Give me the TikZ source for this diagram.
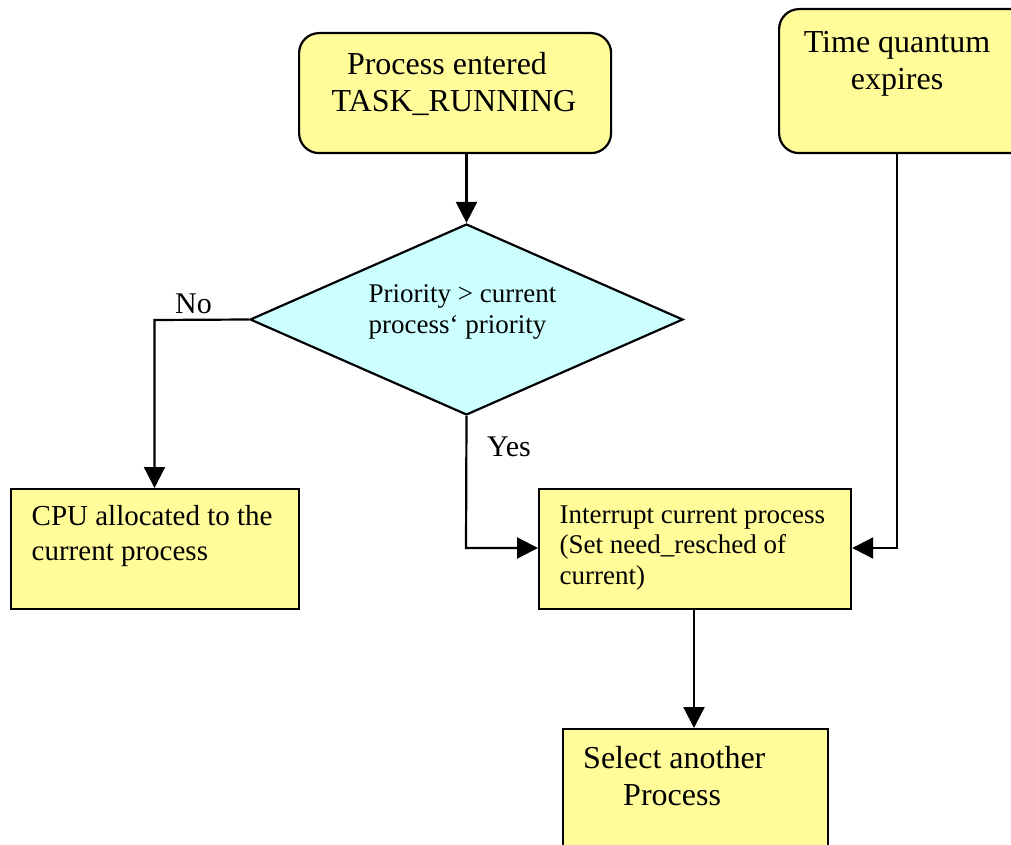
\documentclass[tikz,border=0pt]{standalone}
\usepackage{fontspec}
\setmainfont{Liberation Serif}
\usetikzlibrary{arrows.meta,shapes.geometric}

\definecolor{boxyellow}{RGB}{255,252,153}
\definecolor{decisioncyan}{RGB}{204,255,255}

\tikzset{
  stepbox/.style={draw=black, line width=2.2pt, fill=boxyellow, inner sep=0pt, anchor=north west},
  roundbox/.style={stepbox, rounded corners=20pt},
  decision/.style={draw=black, line width=2.2pt, fill=decisioncyan, inner sep=0pt},
  flow/.style={line width=2.2pt, -{Triangle[length=21pt,width=21pt]}},
  bigtext/.style={inner sep=0pt, font=\fontsize{32}{37}\selectfont},
  midtext/.style={inner sep=0pt, font=\fontsize{29}{35}\selectfont},
  smalltext/.style={inner sep=0pt, font=\fontsize{27}{30.5}\selectfont},
}

\begin{document}
\begin{tikzpicture}[x=1pt, y=-1pt]
  \useasboundingbox (0,0) rectangle (1011,845);
  \clip (0,0) rectangle (1011,845);

  % process steps
  \node[roundbox, minimum width=312pt, minimum height=120pt] (entered) at (298,32) {};
  \node[roundbox, minimum width=260pt, minimum height=144pt] (quantum) at (778,8) {};
  \node[decision, diamond, minimum width=433pt, minimum height=191pt, aspect=2.27] (prio) at (466.5,319.5) {};
  \node[stepbox, minimum width=288pt, minimum height=120pt] (cpu) at (10,488) {};
  \node[stepbox, minimum width=312pt, minimum height=120pt] (intr) at (538,488) {};
  \node[stepbox, minimum width=265pt, minimum height=160pt] (select) at (562,728) {};

  % texts of the steps (anchored on the baseline of their last line)
  \node[bigtext, align=center, anchor=base] (enteredtext) at (454,112)
    {Process entered\hspace*{14pt}\\TASK\_RUNNING};
  \node[bigtext, align=center, anchor=base] (quantumtext) at (897,90)
    {Time quantum\\expires};
  \node[smalltext, align=left, anchor=base west] (priotext) at (368.5,333)
    {Priority > current\\process\symbol{96} priority};
  \node[midtext, align=left, anchor=base west] (cputext) at (31.5,560)
    {CPU allocated to the\\current process};
  \node[smalltext, align=left, anchor=base west] (intrtext) at (559.5,584)
    {Interrupt current process\\(Set need\_resched of\\current)};
  \node[bigtext, align=left, anchor=base west] (selecttext) at (583,805)
    {Select another\\\hspace*{40pt}Process};

  % connectors
  \coordinate (nocorner) at (154.5,320);
  \coordinate (yescorner) at (466,548);
  \coordinate (tqcorner) at (897,548);

  \draw[flow] (entered.south -| prio.north) -- (prio.north);
  \draw[flow] (prio.west) -- (nocorner) -- (nocorner |- cpu.north);
  \draw[flow] (prio.south) -- (yescorner) -- (yescorner -| intr.west);
  \draw[flow] (quantumtext |- quantum.south) -- (tqcorner) -- (tqcorner -| intr.east);
  \draw[flow] (intr.south -| 694,0) -- (694,728);

  % branch labels
  \node[bigtext, font=\fontsize{30}{35}\selectfont, anchor=base west] (nolabel) at (175,313) {No};
  \node[bigtext, font=\fontsize{30}{35}\selectfont, anchor=base west] (yeslabel) at (487,456.5) {Yes};
\end{tikzpicture}
\end{document}
